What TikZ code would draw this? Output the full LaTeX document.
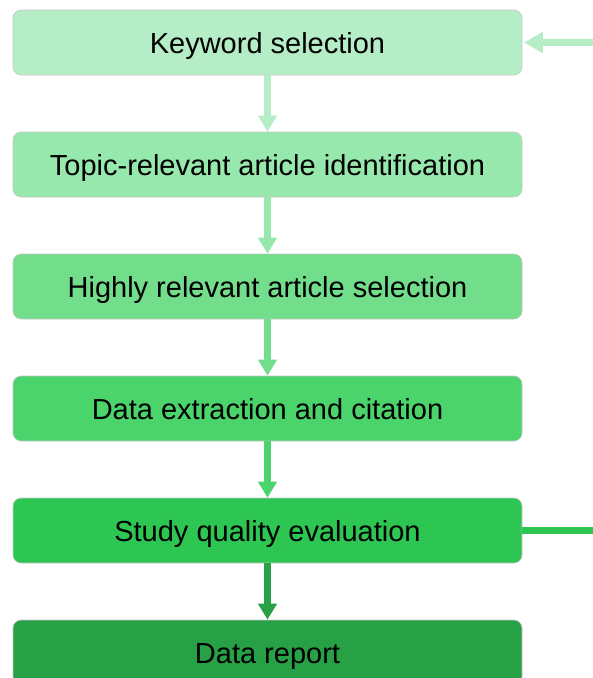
\documentclass[tikz,border=0pt]{standalone}
\usepackage{fontspec}
\setmainfont{Liberation Sans}
\usetikzlibrary{arrows.meta}
\definecolor{c1}{HTML}{B5EEC6}
\definecolor{c2}{HTML}{96E8AC}
\definecolor{c3}{HTML}{72DE8B}
\definecolor{c4}{HTML}{4AD46B}
\definecolor{c5}{HTML}{2DC653}
\definecolor{c6}{HTML}{27A046}
\tikzset{
  stagebox/.style={draw=black!22, line width=0.6pt, rounded corners=8pt,
    minimum width=509pt, minimum height=65pt, inner sep=0pt,
    text height=28pt, text depth=6pt,
    font=\fontsize{29}{34}\selectfont, text=black},
  flowarrow/.style={line width=7pt, -{Triangle[width=18pt,length=16pt]}},
}
\begin{document}
\begin{tikzpicture}[x=1pt,y=-1pt]
\useasboundingbox (0,0) rectangle (593,678);
\clip (0,0) rectangle (593,678);
\node[stagebox, fill=c1] (b1) at (267.5,42.5) {Keyword selection};
\node[stagebox, fill=c2] (b2) at (267.5,164.5) {Topic-relevant article identification};
\node[stagebox, fill=c3] (b3) at (267.5,286.5) {Highly relevant article selection};
\node[stagebox, fill=c4] (b4) at (267.5,408.5) {Data extraction and citation};
\node[stagebox, fill=c5] (b5) at (267.5,530.5) {Study quality evaluation};
\node[stagebox, fill=c6] (b6) at (267.5,652.5) {Data report};
\draw[flowarrow, draw=c1] (b1.south) -- (b2.north);
\draw[flowarrow, draw=c2] (b2.south) -- (b3.north);
\draw[flowarrow, draw=c3] (b3.south) -- (b4.north);
\draw[flowarrow, draw=c4] (b4.south) -- (b5.north);
\draw[flowarrow, draw=c6] (b5.south) -- (b6.north);
\coordinate (fbin) at (600,42.5);
\coordinate (fbout) at (600,530.5);
\draw[line width=7pt, draw=c1, -{Triangle[width=20pt,length=19pt]}] (fbin) -- ([xshift=1.5pt]b1.east);
\draw[line width=7pt, draw=c5] (b5.east) -- (fbout);
\end{tikzpicture}
\end{document}
